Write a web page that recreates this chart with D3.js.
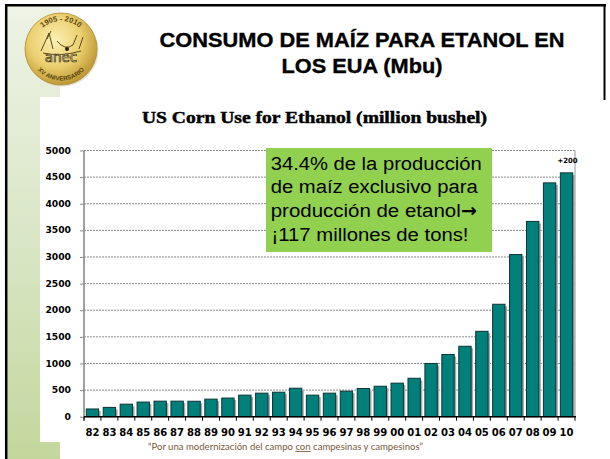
<!DOCTYPE html>
<html>
<head>
<meta charset="utf-8">
<script src="https://cdnjs.cloudflare.com/ajax/libs/d3/7.8.5/d3.min.js"></script>
<style>
  html, body { margin: 0; padding: 0; background: #ffffff; }
  svg { display: block; }
</style>
</head>
<body>
<div id="chart"></div>
<script>
// ---------------- DATA ----------------
const years = ["82","83","84","85","86","87","88","89","90","91","92","93","94","95","96","97","98","99","00","01","02","03","04","05","06","07","08","09","10"];
const cornUse = [145, 175, 235, 275, 292, 292, 290, 330, 350, 405, 442, 460, 535, 405, 442, 480, 530, 572, 630, 722, 1000, 1168, 1323, 1604, 2112, 3045, 3668, 4392, 4580];
const yTicks = [0, 500, 1000, 1500, 2000, 2500, 3000, 3500, 4000, 4500, 5000];
const titleLines = ["CONSUMO DE MAÍZ PARA ETANOL EN", "LOS EUA (Mbu)"];
const chartTitle = "US Corn Use for Ethanol (million bushel)";
const boxLines = ["34.4% de la producción", "de maíz exclusivo para", "producción de etanol", "¡117 millones de tons!"];
const lastBarNote = "+200";

// ---------------- SETUP ----------------
const W = 610, H = 459;
const SANS = "Liberation Sans, Arial, sans-serif";
const BOLDSANS = "DejaVu Sans, sans-serif";
const svg = d3.select("#chart").append("svg").attr("width", W).attr("height", H);
const defs = svg.append("defs");

const sideGrad = defs.append("linearGradient").attr("id", "side").attr("x1", 0).attr("y1", 0).attr("x2", 0).attr("y2", 1);
sideGrad.append("stop").attr("offset", "0%").attr("stop-color", "#eef3e6");
sideGrad.append("stop").attr("offset", "55%").attr("stop-color", "#d8e5c3");
sideGrad.append("stop").attr("offset", "100%").attr("stop-color", "#c3d79c");

const gold = defs.append("radialGradient").attr("id", "gold").attr("cx", "42%").attr("cy", "38%").attr("r", "65%");
gold.append("stop").attr("offset", "0%").attr("stop-color", "#fbf0b4");
gold.append("stop").attr("offset", "55%").attr("stop-color", "#ecd070");
gold.append("stop").attr("offset", "100%").attr("stop-color", "#b99430");

// background strip and frame
svg.append("rect").attr("x", 0).attr("y", 0).attr("width", W).attr("height", H).attr("fill", "#ffffff");
svg.append("rect").attr("x", 7).attr("y", 6).attr("width", 53).attr("height", H - 6).attr("fill", "url(#side)");
svg.append("rect").attr("x", 40).attr("y", 97).attr("width", 570).attr("height", 345).attr("fill", "#ffffff");

svg.append("line").attr("x1", 5).attr("x2", 606).attr("y1", 5.2).attr("y2", 5.2).attr("stroke", "#000").attr("stroke-width", 2.5);
svg.append("line").attr("x1", 6.2).attr("x2", 6.2).attr("y1", 4).attr("y2", H).attr("stroke", "#000").attr("stroke-width", 2.5);
svg.append("line").attr("x1", 604.5).attr("x2", 604.5).attr("y1", 4).attr("y2", 100).attr("stroke", "#000").attr("stroke-width", 2);

// ---------------- LOGO ----------------
const lg = svg.append("g");
const cx = 61, cy = 49;
lg.append("circle").attr("cx", cx + 1.5).attr("cy", cy + 1.5).attr("r", 36).attr("fill", "#c8c8b0").attr("opacity", 0.5);
lg.append("circle").attr("cx", cx).attr("cy", cy).attr("r", 36).attr("fill", "url(#gold)").attr("stroke", "#b08a28").attr("stroke-width", 0.8);
defs.append("path").attr("id", "arcTop").attr("d", `M ${cx - 28} ${cy} A 28 28 0 0 1 ${cx + 28} ${cy}`);
lg.append("text").attr("font-family", SANS).attr("font-weight", "bold").attr("font-size", 7.5).attr("fill", "#5a4510")
  .append("textPath").attr("href", "#arcTop").attr("startOffset", "50%").attr("text-anchor", "middle").text("1905 - 2010");
// bottom ring text, one glyph at a time
(function () {
  const s = "XV ANIVERSARIO";
  const r = 31.5, fs = 6.2;
  const probe = lg.append("text").attr("font-family", SANS).attr("font-weight", "bold").attr("font-size", fs);
  const widths = s.split("").map(ch => { probe.text(ch === " " ? "\u00A0" : ch); return probe.node().getComputedTextLength(); });
  probe.remove();
  const total = d3.sum(widths);
  let acc = 0;
  s.split("").forEach((ch, i) => {
    const mid = acc + widths[i] / 2;
    acc += widths[i];
    if (ch === " ") return;
    // angle measured from bottom, positive towards the right (text runs left to right along the bottom)
    const a = (mid - total / 2) / r;
    const px = cx + r * Math.sin(a), py = cy + r * Math.cos(a);
    lg.append("text").attr("font-family", SANS).attr("font-weight", "bold").attr("font-size", fs).attr("fill", "#5a4510")
      .attr("text-anchor", "middle")
      .attr("transform", `translate(${px},${py}) rotate(${-a * 180 / Math.PI})`)
      .text(ch);
  });
})();
lg.append("path").attr("d", `M ${cx - 20} ${cy + 2} L ${cx - 12} ${cy - 16} L ${cx - 8} ${cy} M ${cx - 14} ${cy - 10} L ${cx - 10} ${cy - 18} M ${cx - 4} ${cy - 8} Q ${cx + 4} ${cy + 2} ${cx + 12} ${cy - 4} M ${cx + 12} ${cy - 4} L ${cx + 16} ${cy - 14} M ${cx + 18} ${cy} L ${cx + 22} ${cy - 12} M ${cx - 18} ${cy + 4} Q ${cx} ${cy + 8} ${cx + 20} ${cy + 2}`)
  .attr("fill", "none").attr("stroke", "#4a3a10").attr("stroke-width", 0.9);
lg.append("circle").attr("cx", cx + 6).attr("cy", cy).attr("r", 2).attr("fill", "#2a2008");
lg.append("text").attr("x", cx).attr("y", cy + 12.5).attr("text-anchor", "middle")
  .attr("font-family", "DejaVu Sans, sans-serif").attr("font-size", 13.5).attr("fill", "#fff6d0").attr("stroke", "#3a2e08").attr("stroke-width", 0.7)
  .text("anec");

// ---------------- TITLES ----------------
svg.append("text").attr("x", 362).attr("y", 47).attr("text-anchor", "middle")
  .attr("font-family", SANS).attr("font-weight", "bold").attr("font-size", 20)
  .attr("stroke", "#000").attr("stroke-width", 0.35)
  .attr("textLength", 405).attr("lengthAdjust", "spacingAndGlyphs").text(titleLines[0]);
svg.append("text").attr("x", 362).attr("y", 73).attr("text-anchor", "middle")
  .attr("font-family", SANS).attr("font-weight", "bold").attr("font-size", 20)
  .attr("stroke", "#000").attr("stroke-width", 0.35)
  .attr("textLength", 161).attr("lengthAdjust", "spacingAndGlyphs").text(titleLines[1]);

svg.append("text").attr("x", 314.5).attr("y", 123.3).attr("text-anchor", "middle")
  .attr("font-family", "Liberation Serif, 'Times New Roman', serif").attr("font-weight", "bold").attr("font-size", 16)
  .attr("stroke", "#000").attr("stroke-width", 0.45)
  .attr("textLength", 345).attr("lengthAdjust", "spacingAndGlyphs").text(chartTitle);

// ---------------- CHART ----------------
const x0 = 84, x1 = 575;
const x = d3.scaleBand().domain(years).range([x0, x1]).paddingInner(0.27).paddingOuter(0.135);
const y = d3.scaleLinear().domain([0, 5000]).range([416.7, 150.5]);

// gridlines
svg.append("g").selectAll("line").data(yTicks.filter(d => d > 0)).join("line")
  .attr("x1", x0).attr("x2", x1).attr("y1", d => y(d)).attr("y2", d => y(d))
  .attr("stroke", "#8a8a8a").attr("stroke-width", 1).attr("stroke-dasharray", "2,1");

// y axis (labels + ticks)
const yAxis = svg.append("g").attr("transform", `translate(${x0},0)`)
  .call(d3.axisLeft(y).tickValues(yTicks).tickSize(4).tickPadding(9).tickFormat(d3.format("d")));
yAxis.select(".domain").remove();
yAxis.selectAll(".tick line").attr("stroke", "#8a8a8a");
yAxis.selectAll(".tick text")
  .attr("font-family", BOLDSANS).attr("font-weight", "bold").attr("font-size", 8).attr("fill", "#000")
  .attr("textLength", d => String(d).length * 6.4).attr("lengthAdjust", "spacingAndGlyphs");

// plot right border
svg.append("line").attr("x1", x1).attr("x2", x1).attr("y1", y(5000)).attr("y2", y(0)).attr("stroke", "#9a9a9a").attr("stroke-width", 1);

// bar shadows
svg.append("g").selectAll("rect").data(years).join("rect")
  .attr("x", d => x(d) + 2).attr("y", (d, i) => y(cornUse[i]) + 2)
  .attr("width", x.bandwidth()).attr("height", (d, i) => Math.max(0, y(0) - y(cornUse[i]) - 2))
  .attr("fill", "#a8a8a8");
// bars
svg.append("g").selectAll("rect").data(years).join("rect")
  .attr("x", d => x(d)).attr("y", (d, i) => y(cornUse[i]))
  .attr("width", x.bandwidth()).attr("height", (d, i) => y(0) - y(cornUse[i]))
  .attr("fill", "#007f7b").attr("stroke", "#0e3434").attr("stroke-width", 1);

// y axis line
svg.append("line").attr("x1", x0).attr("x2", x0).attr("y1", y(5000)).attr("y2", y(0) + 4).attr("stroke", "#8a8a8a").attr("stroke-width", 1.6);

// x axis
svg.append("line").attr("x1", x0).attr("x2", x1 + 1).attr("y1", y(0)).attr("y2", y(0)).attr("stroke", "#000").attr("stroke-width", 1.4);
const step = x.step();
svg.append("g").selectAll("line").data(d3.range(years.length + 1)).join("line")
  .attr("x1", k => x0 + k * step).attr("x2", k => x0 + k * step)
  .attr("y1", y(0)).attr("y2", y(0) + 4).attr("stroke", "#000").attr("stroke-width", 1);
const xAxis = svg.append("g").attr("transform", `translate(0,${y(0)})`)
  .call(d3.axisBottom(x).tickSize(0).tickPadding(12));
xAxis.select(".domain").remove();
xAxis.selectAll(".tick text")
  .attr("font-family", BOLDSANS).attr("font-weight", "bold").attr("font-size", 9.6).attr("fill", "#000")
  .attr("textLength", 14).attr("lengthAdjust", "spacingAndGlyphs");

// note over last bar
const lastYear = years[years.length - 1];
svg.append("text").attr("x", x(lastYear) + x.bandwidth() / 2 + 1).attr("y", y(cornUse[cornUse.length - 1]) - 9.5)
  .attr("text-anchor", "middle").attr("font-family", BOLDSANS).attr("font-weight", "bold").attr("font-size", 7.2)
  .attr("textLength", 20).attr("lengthAdjust", "spacingAndGlyphs").text(lastBarNote);

// ---------------- ANNOTATION BOX ----------------
svg.append("rect").attr("x", 266).attr("y", 148).attr("width", 226).attr("height", 104).attr("fill", "#92d050");
const boxWidths = [211, 207, 190, 197];
boxLines.forEach((t, i) => {
  svg.append("text").attr("x", i === 3 ? 271.5 : 270.7).attr("y", 169.5 + i * 23.9)
    .attr("font-family", SANS).attr("font-size", 18).attr("fill", "#000")
    .attr("textLength", boxWidths[i]).attr("lengthAdjust", "spacingAndGlyphs").text(t);
});
// arrow after "etanol"
svg.append("text").attr("x", 461).attr("y", 169.5 + 2 * 23.9)
  .attr("font-family", "DejaVu Sans, sans-serif").attr("font-weight", "bold").attr("font-size", 19).attr("fill", "#000")
  .text("\u2192");

// ---------------- FOOTER ----------------
const foot = svg.append("text").attr("x", 285.5).attr("y", 450).attr("text-anchor", "middle")
  .attr("font-family", "Lato, 'Open Sans', sans-serif").attr("font-size", 8.6).attr("fill", "#7a5a3a")
  .attr("textLength", 275).attr("lengthAdjust", "spacingAndGlyphs");
foot.append("tspan").text("\u201CPor una modernización del campo ");
foot.append("tspan").attr("text-decoration", "underline").text("con");
foot.append("tspan").text(" campesinas y campesinos\u201D");
</script>
</body>
</html>
